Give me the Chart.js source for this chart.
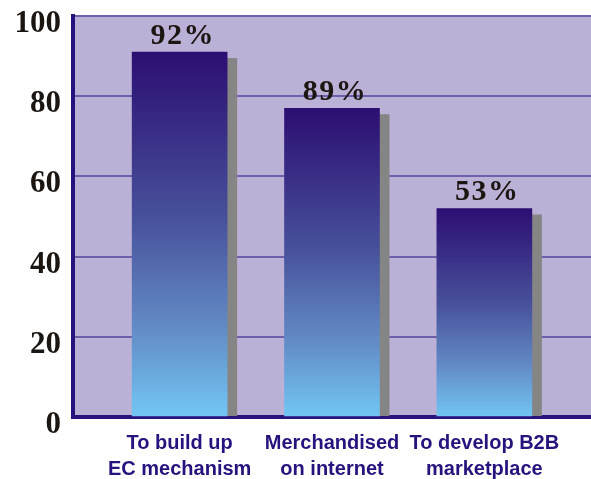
<!DOCTYPE html>
<html>
<head>
<meta charset="utf-8">
<script src="https://cdn.jsdelivr.net/npm/chart.js@4/dist/chart.umd.min.js"></script>
<style>
  html, body { margin: 0; padding: 0; background: #ffffff; }
  #wrap { width: 591px; height: 479px; position: relative; }
</style>
</head>
<body>
<div id="wrap"><canvas id="c" width="591" height="479"></canvas></div>
<script>
// ---- data ----
const categories = [
  ['To build up', 'EC mechanism'],
  ['Merchandised', 'on internet'],
  ['To develop B2B', 'marketplace']
];
const barValues = [91, 77, 52];
const valueLabels = ['92%', '89%', '53%'];
const yTicks = [0, 20, 40, 60, 80, 100];

// ---- styles ----
const PLOT_BG = '#bbb1d7';
const GRID_COLOR = '#6f5fab';
const AXIS_COLOR = '#28127e';
const SHADOW_COLOR = '#858585';
const SHADOW_DX = 10, SHADOW_DY = 6;
const LABEL_GAP = 8;

const plotBg = {
  id: 'plotBg',
  beforeDraw(chart) {
    const { ctx, chartArea: a } = chart;
    ctx.save();
    ctx.fillStyle = PLOT_BG;
    ctx.fillRect(a.left, a.top, a.right - a.left, a.bottom - a.top);
    ctx.restore();
  }
};

const shadows = {
  id: 'shadows',
  beforeDatasetsDraw(chart) {
    const { ctx } = chart;
    const meta = chart.getDatasetMeta(0);
    ctx.save();
    ctx.fillStyle = SHADOW_COLOR;
    meta.data.forEach(bar => {
      const p = bar.getProps(['x', 'y', 'base', 'width'], true);
      const top = p.y + SHADOW_DY;
      ctx.fillRect(p.x - p.width / 2 + SHADOW_DX, top, p.width, p.base - top);
    });
    ctx.restore();
  }
};

const valueText = {
  id: 'valueText',
  afterDatasetsDraw(chart) {
    const { ctx } = chart;
    const meta = chart.getDatasetMeta(0);
    ctx.save();
    ctx.fillStyle = '#1c1612';
    ctx.font = 'bold 30px "Liberation Serif", "Times New Roman", serif';
    ctx.letterSpacing = '1.5px';
    ctx.textAlign = 'center';
    ctx.textBaseline = 'alphabetic';
    meta.data.forEach((bar, i) => {
      const p = bar.getProps(['x', 'y'], true);
      ctx.fillText(valueLabels[i], p.x + 3, p.y - LABEL_GAP);
    });
    ctx.restore();
  }
};

function barGradient(context) {
  const chart = context.chart;
  if (!chart.chartArea || !context.parsed) return '#4b559d';
  const ys = chart.scales.y;
  const top = ys.getPixelForValue(context.parsed.y);
  const bottom = ys.getPixelForValue(0);
  const g = chart.ctx.createLinearGradient(0, top, 0, bottom);
  g.addColorStop(0, '#2c0e72');
  g.addColorStop(0.45, '#47509a');
  g.addColorStop(0.75, '#628ac4');
  g.addColorStop(1, '#72c6f3');
  return g;
}

new Chart(document.getElementById('c'), {
  type: 'bar',
  data: {
    datasets: [{
      data: barValues.map((v, i) => ({ x: i, y: v })),
      backgroundColor: barGradient,
      borderWidth: 0,
      barThickness: 95
    }]
  },
  options: {
    responsive: false,
    animation: false,
    devicePixelRatio: 1,
    layout: { padding: { top: 16, right: 0, bottom: 0, left: 0 } },
    plugins: { legend: { display: false }, tooltip: { enabled: false } },
    scales: {
      x: {
        type: 'linear',
        offset: false,
        min: -0.70,
        max: 2.70,
        afterBuildTicks: s => { s.ticks = categories.map((c, i) => ({ value: i })); },
        afterFit: s => { s.height = 62; s.paddingLeft = 0; s.paddingRight = 0; },
        grid: { display: false, drawTicks: false, offset: false },
        border: { display: true, color: AXIS_COLOR, width: 4 },
        ticks: {
          maxRotation: 0,
          autoSkip: false,
          padding: 13,
          color: AXIS_COLOR,
          font: { family: '"Liberation Sans", Arial, sans-serif', weight: 'bold', size: 20, lineHeight: 1.3 },
          callback: v => categories[v]
        }
      },
      y: {
        min: 0,
        max: 100,
        afterBuildTicks: s => { s.ticks = yTicks.map(v => ({ value: v })); },
        afterFit: s => { s.width = 73; s.paddingTop = 0; s.paddingBottom = 0; },
        grid: { color: GRID_COLOR, lineWidth: 2, drawTicks: false },
        border: { display: true, color: AXIS_COLOR, width: 4 },
        ticks: {
          padding: 12,
          labelOffset: 8,
          color: '#1c1612',
          font: { family: '"Liberation Serif", "Times New Roman", serif', weight: 'bold', size: 31 }
        }
      }
    }
  },
  plugins: [plotBg, shadows, valueText]
});
</script>
</body>
</html>
